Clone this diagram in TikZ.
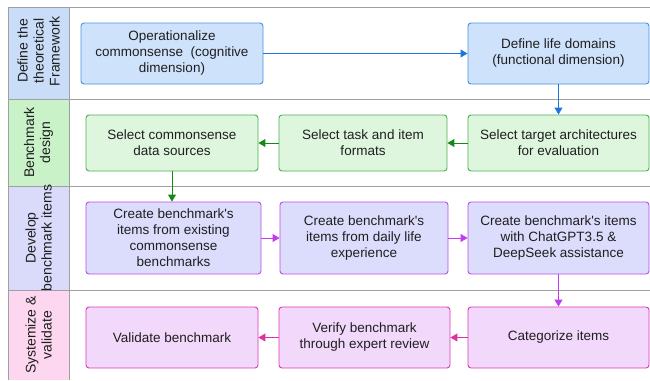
\documentclass[tikz,border=0pt]{standalone}
\usepackage{fontspec}
\setmainfont{Liberation Sans}
\usetikzlibrary{arrows.meta}
\definecolor{laneblue}{HTML}{CADDF8}
\definecolor{lanegreen}{HTML}{C9F2C9}
\definecolor{lanepurple}{HTML}{DADAFA}
\definecolor{lanepink}{HTML}{FDD7F0}
\definecolor{boxblue}{HTML}{CFE2FB}
\definecolor{edgeblue}{HTML}{4A90E2}
\definecolor{arrblue}{HTML}{1F75E0}
\definecolor{boxgreen}{HTML}{DFF6DE}
\definecolor{edgegreen}{HTML}{4CAF50}
\definecolor{arrgreen}{HTML}{138A13}
\definecolor{boxpurple}{HTML}{DCDCFC}
\definecolor{edgepurple}{HTML}{B94DE8}
\definecolor{arrpurple}{HTML}{C03CF0}
\definecolor{boxpink}{HTML}{F2D8FA}
\definecolor{edgepink}{HTML}{D83BB4}
\definecolor{arrpink}{HTML}{E0309E}
\definecolor{laneline}{HTML}{A0A0A0}
\newcommand{\apos}{\textquotesingle}
\begin{document}
\begin{tikzpicture}[x=1pt,y=-1pt,
  stepbox/.style={draw,rounded corners=3pt,line width=0.9pt,align=center,
    font=\fontsize{13.5}{16}\selectfont,inner sep=2pt,text=black!88},
  bluebox/.style={stepbox,fill=boxblue,draw=edgeblue},
  greenbox/.style={stepbox,fill=boxgreen,draw=edgegreen},
  purplebox/.style={stepbox,fill=boxpurple,draw=edgepurple},
  pinkbox/.style={stepbox,fill=boxpink,draw=edgepink},
  flow/.style={line width=1pt,-{Triangle[length=7pt,width=8pt]}},
  lanelabel/.style={rotate=90,align=center,font=\fontsize{14}{16}\selectfont,text=black!88},
  sep/.style={draw=laneline,line width=0.9pt}]
\useasboundingbox (0,0) rectangle (650,380);
% lane label backgrounds
\fill[laneblue] (8,7) rectangle (69,99);
\fill[lanegreen] (8,99) rectangle (69,186);
\fill[lanepurple] (8,186) rectangle (69,290);
\fill[lanepink] (8,290) rectangle (69,380);
% lane lines
\draw[sep] (8,7) -- (650,7);
\draw[sep] (8,99) -- (650,99);
\draw[sep] (8,186) -- (650,186);
\draw[sep] (8,290) -- (650,290);
\draw[sep] (8,7) -- (8,380);
\draw[sep] (69,7) -- (69,380);
% lane labels
\node[lanelabel] (l1) at (38.5,51) {Define the\\theoretical\\Framework};
\node[lanelabel] (l2) at (38.5,142.5) {Benchmark\\design};
\node[lanelabel] (l3) at (38.5,238) {Develop\\benchmark items};
\node[lanelabel] (l4) at (38.5,335) {Systemize \&\\validate};
% boxes
\node[bluebox,minimum width=182pt,minimum height=61pt] (A) at (172,53.5) {Operationalize\\commonsense~ (cognitive\\dimension)};
\node[bluebox,minimum width=181pt,minimum height=61pt] (B) at (558.5,53.5) {Define life domains\\(functional dimension)};
\node[greenbox,minimum width=172pt,minimum height=56pt] (C) at (172,143) {Select commonsense\\data sources};
\node[greenbox,minimum width=168pt,minimum height=56pt] (D) at (363,143) {Select task and item\\formats};
\node[greenbox,minimum width=181pt,minimum height=56pt] (E) at (558.5,143) {Select target architectures\\for evaluation};
\node[purplebox,minimum width=175pt,minimum height=72pt] (F) at (173.5,238) {Create benchmark\apos s\\items from existing\\commonsense\\benchmarks};
\node[purplebox,minimum width=168pt,minimum height=72pt] (G) at (364,238) {Create benchmark\apos s\\items from daily life\\experience};
\node[purplebox,minimum width=181pt,minimum height=72pt] (H) at (558.5,238) {Create benchmark\apos s items\\with ChatGPT3.5 \&\\DeepSeek assistance};
\node[pinkbox,minimum width=172pt,minimum height=61pt] (I) at (172,337.5) {Validate benchmark};
\node[pinkbox,minimum width=171pt,minimum height=61pt] (J) at (364.5,337.5) {Verify benchmark\\through expert review};
\node[pinkbox,minimum width=181pt,minimum height=61pt] (K) at (558.5,337.5) {Categorize items};
% connectors
\draw[flow,arrblue] (A) -- (B);
\draw[flow,arrblue] (B) -- (E);
\draw[flow,arrgreen] (E) -- (D);
\draw[flow,arrgreen] (D) -- (C);
\draw[flow,arrgreen] (C.south) -- (C.south |- F.north);
\draw[flow,arrpurple] (F) -- (G);
\draw[flow,arrpurple] (G) -- (H);
\draw[flow,arrpurple] (H) -- (K);
\draw[flow,arrpink] (K) -- (J);
\draw[flow,arrpink] (J) -- (I);
\end{tikzpicture}
\end{document}
